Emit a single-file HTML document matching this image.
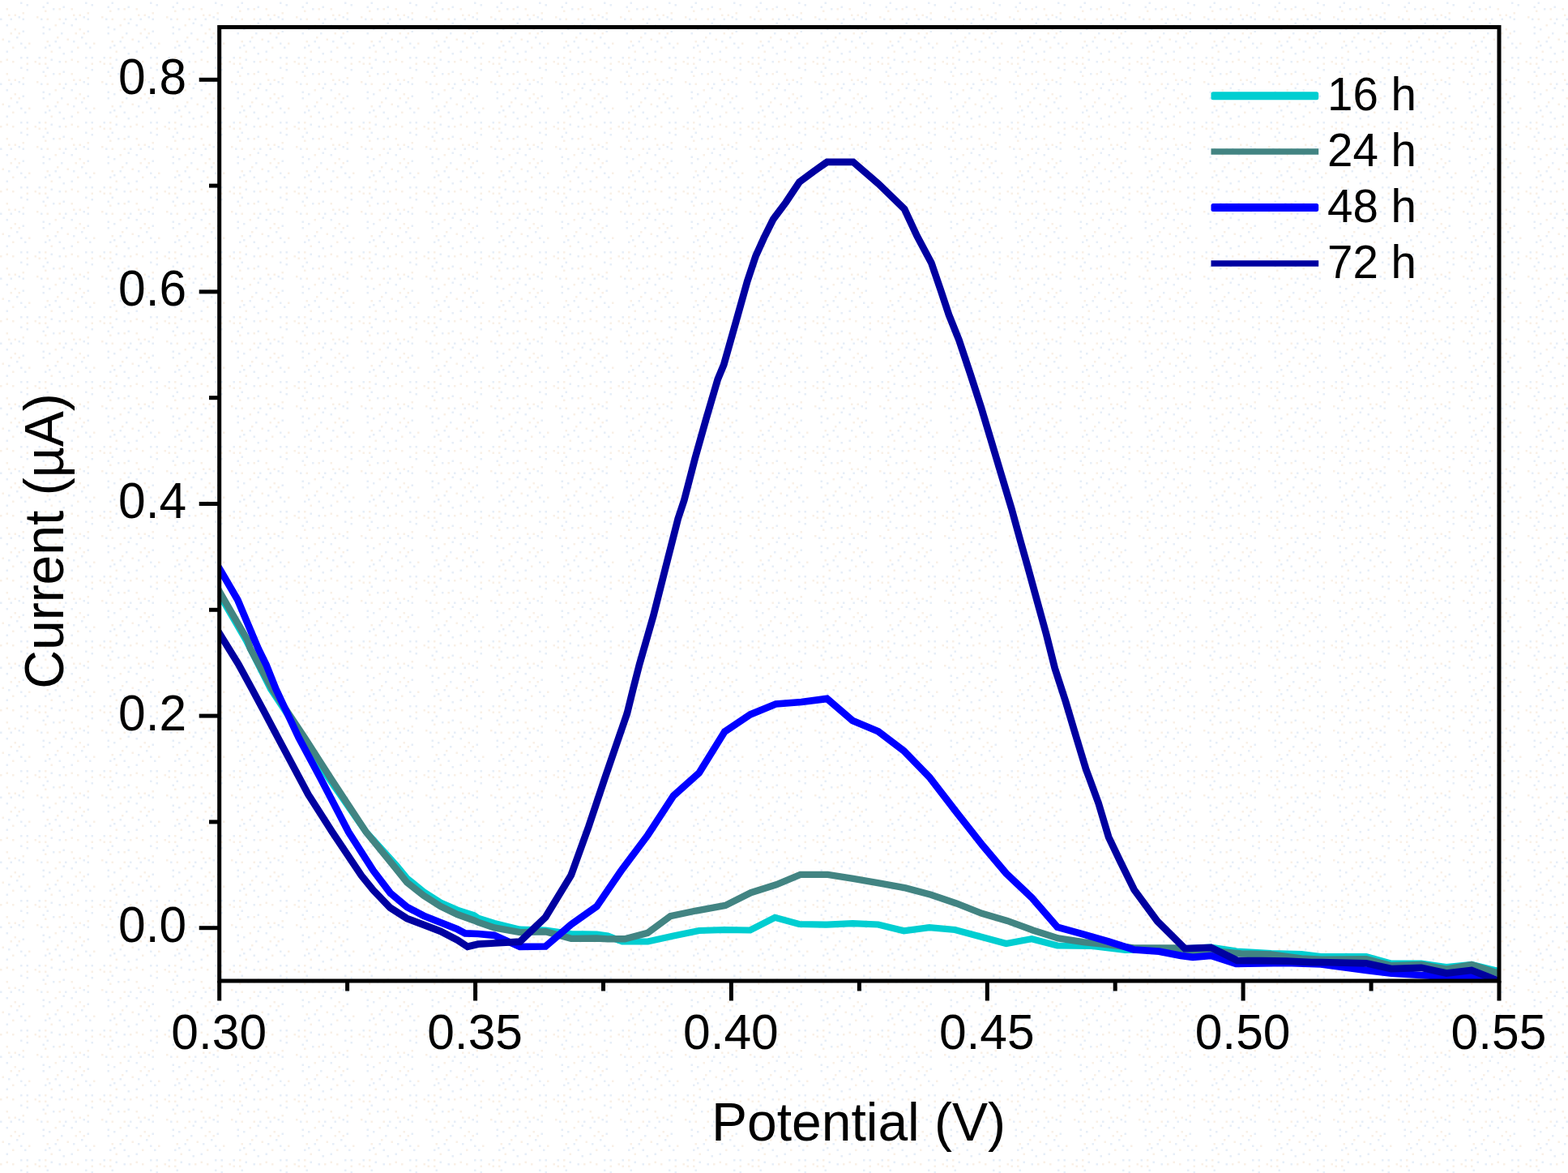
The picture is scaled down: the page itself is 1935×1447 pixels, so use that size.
<!DOCTYPE html>
<html lang="en">
<head>
<meta charset="utf-8">
<title>Current vs Potential</title>
<style>
html,body{margin:0;padding:0;background:#ffffff;}
body{width:1935px;height:1447px;overflow:hidden;}
svg{display:block;}
text{font-family:"Liberation Sans",sans-serif;fill:#000;}
.tick{font-size:60.5px;}
.axl{font-size:66px;}
.leg{font-size:56.5px;}
</style>
</head>
<body>
<svg width="1935" height="1447" viewBox="0 0 1935 1447">
<defs>
<clipPath id="pc"><rect x="270.7" y="33.5" width="1579.3" height="1176.5"/></clipPath>
<pattern id="dz" x="0" y="0" width="80" height="80" patternUnits="userSpaceOnUse">
<path d="M50,22.5h2.5v2.5h-2.5zM32.5,5h2.5v2.5h-2.5zM65,10h2.5v2.5h-2.5zM7.5,62.5h2.5v2.5h-2.5zM20,45h2.5v2.5h-2.5zM30,57.5h2.5v2.5h-2.5zM67.5,50h2.5v2.5h-2.5zM72.5,57.5h2.5v2.5h-2.5zM27.5,37.5h2.5v2.5h-2.5zM25,52.5h2.5v2.5h-2.5zM77.5,65h2.5v2.5h-2.5zM10,50h2.5v2.5h-2.5zM47.5,70h2.5v2.5h-2.5zM60,55h2.5v2.5h-2.5zM77.5,7.5h2.5v2.5h-2.5zM25,70h2.5v2.5h-2.5zM60,35h2.5v2.5h-2.5zM27.5,22.5h2.5v2.5h-2.5zM77.5,27.5h2.5v2.5h-2.5zM0,22.5h2.5v2.5h-2.5zM7.5,30h2.5v2.5h-2.5zM32.5,70h2.5v2.5h-2.5zM52.5,7.5h2.5v2.5h-2.5zM57.5,2.5h2.5v2.5h-2.5zM72.5,75h2.5v2.5h-2.5zM12.5,22.5h2.5v2.5h-2.5zM52.5,40h2.5v2.5h-2.5zM25,2.5h2.5v2.5h-2.5zM75,40h2.5v2.5h-2.5zM55,57.5h2.5v2.5h-2.5zM52.5,32.5h2.5v2.5h-2.5zM62.5,72.5h2.5v2.5h-2.5zM22.5,20h2.5v2.5h-2.5z" fill="#e6eef8"/>
<path d="M7.5,10h2.5v2.5h-2.5zM15,57.5h2.5v2.5h-2.5zM17.5,35h2.5v2.5h-2.5zM27.5,15h2.5v2.5h-2.5zM32.5,77.5h2.5v2.5h-2.5zM47.5,77.5h2.5v2.5h-2.5zM70,45h2.5v2.5h-2.5zM10,17.5h2.5v2.5h-2.5zM55,77.5h2.5v2.5h-2.5zM72.5,10h2.5v2.5h-2.5zM42.5,75h2.5v2.5h-2.5zM45,20h2.5v2.5h-2.5zM62.5,62.5h2.5v2.5h-2.5zM57.5,50h2.5v2.5h-2.5zM7.5,72.5h2.5v2.5h-2.5zM15,75h2.5v2.5h-2.5zM22.5,40h2.5v2.5h-2.5zM17.5,17.5h2.5v2.5h-2.5zM57.5,22.5h2.5v2.5h-2.5zM2.5,47.5h2.5v2.5h-2.5zM12.5,40h2.5v2.5h-2.5zM35,52.5h2.5v2.5h-2.5zM55,70h2.5v2.5h-2.5zM0,75h2.5v2.5h-2.5zM55,12.5h2.5v2.5h-2.5zM72.5,22.5h2.5v2.5h-2.5zM67.5,30h2.5v2.5h-2.5z" fill="#f9f0e6"/>
</pattern>
</defs>
<rect x="0" y="0" width="1935" height="1447" fill="#ffffff"/>
<rect x="0" y="0" width="1935" height="1447" fill="url(#dz)"/>
<g clip-path="url(#pc)" fill="none" stroke-linejoin="miter" stroke-miterlimit="3" stroke-linecap="butt">
<path d="M262.7,719.0 L273.2,737.5 L303.7,790.0 L334.0,850.0 L374.5,911.0 L405.6,960.0 L451.7,1026.3 L489.5,1068.0 L502.2,1083.4 L522.9,1100.2 L543.7,1113.5 L564.4,1122.6 L585.1,1129.2 L590.0,1132.6 L610.1,1139.0 L641.6,1146.7 L673.2,1147.5 L704.8,1152.1 L736.4,1152.5 L750.0,1154.5 L767.9,1161.5 L799.5,1161.5 L831.1,1154.5 L862.7,1148.0 L894.3,1147.0 L925.8,1147.5 L956.3,1131.8 L986.1,1140.0 L1020.6,1140.7 L1052.2,1139.2 L1083.8,1140.5 L1115.4,1148.3 L1146.9,1144.2 L1178.5,1147.0 L1210.1,1155.5 L1241.7,1164.0 L1273.2,1158.2 L1304.8,1166.5 L1347.4,1167.0 L1388.8,1172.0 L1462.0,1170.3 L1494.0,1168.5 L1526.0,1173.5 L1568.8,1176.0 L1606.0,1177.0 L1630.0,1180.0 L1686.0,1180.0 L1717.0,1188.7 L1754.0,1188.7 L1785.0,1193.0 L1816.0,1190.0 L1847.0,1197.4 L1853.0,1199.0" stroke="#00ced1" stroke-width="8.2"/>
<path d="M262.7,715.5 L273.2,733.9 L305.7,790.0 L308.9,800.0 L336.0,850.0 L376.0,910.0 L408.1,960.0 L451.7,1026.3 L487.4,1070.0 L502.2,1088.5 L522.9,1104.8 L543.7,1118.1 L564.4,1128.0 L585.1,1135.5 L590.0,1137.6 L610.1,1144.5 L641.6,1150.1 L673.2,1149.2 L704.8,1157.9 L736.4,1157.5 L750.0,1158.4 L771.1,1158.2 L799.2,1150.8 L827.3,1130.1 L858.8,1123.5 L895.1,1116.9 L926.6,1101.2 L958.0,1091.3 L987.7,1078.9 L1021.5,1078.9 L1052.9,1083.8 L1086.0,1089.6 L1117.4,1095.4 L1148.8,1103.7 L1180.3,1114.4 L1211.7,1126.8 L1243.1,1135.9 L1274.5,1147.5 L1305.9,1157.4 L1337.0,1162.2 L1368.1,1165.3 L1399.2,1169.4 L1451.0,1169.4 L1471.8,1173.6 L1502.9,1173.6 L1531.6,1176.5 L1568.8,1177.5 L1606.0,1182.5 L1630.9,1183.8 L1686.0,1183.2 L1717.0,1191.2 L1754.0,1190.0 L1785.0,1195.6 L1816.0,1190.0 L1847.0,1200.0 L1853.0,1202.0" stroke="#428482" stroke-width="8.4"/>
<path d="M262.7,688.0 L273.2,705.5 L293.3,740.0 L318.6,800.0 L328.5,820.0 L340.5,850.0 L368.7,910.0 L395.5,960.0 L430.1,1026.3 L460.7,1074.1 L481.5,1101.5 L502.2,1118.9 L522.9,1129.7 L543.7,1138.0 L564.4,1146.3 L574.0,1151.3 L590.0,1152.0 L610.1,1153.8 L641.6,1167.9 L673.2,1167.5 L704.8,1140.5 L736.4,1118.1 L768.0,1072.0 L799.5,1030.0 L831.1,981.7 L862.7,953.5 L894.3,902.5 L925.9,881.4 L957.4,868.5 L989.0,866.0 L1020.6,861.9 L1052.2,889.0 L1083.8,902.2 L1115.4,926.3 L1146.9,958.6 L1181.5,1003.5 L1212.6,1042.9 L1241.7,1077.4 L1273.2,1107.2 L1304.8,1143.7 L1336.4,1152.4 L1368.0,1161.5 L1399.2,1171.5 L1430.3,1173.6 L1457.2,1178.9 L1472.1,1180.8 L1494.4,1178.9 L1525.4,1188.8 L1587.0,1188.0 L1630.0,1189.4 L1686.0,1196.9 L1717.0,1200.6 L1754.0,1203.0 L1785.0,1205.0 L1816.0,1204.0 L1847.0,1210.0 L1853.0,1211.0" stroke="#0000ff" stroke-width="8.75"/>
<path d="M262.7,768.3 L273.2,785.3 L294.3,819.4 L311.0,850.0 L325.9,877.7 L343.0,910.0 L380.4,980.0 L410.0,1026.3 L445.9,1080.0 L460.7,1098.2 L481.5,1119.8 L502.2,1133.0 L522.9,1140.9 L543.7,1148.8 L564.4,1159.6 L577.0,1167.8 L590.0,1164.7 L610.1,1163.5 L641.6,1161.7 L673.2,1131.4 L704.8,1079.5 L726.3,1020.0 L746.4,960.0 L773.9,880.0 L781.3,850.0 L789.0,820.0 L806.2,760.0 L821.4,700.0 L836.7,640.0 L844.3,617.0 L857.8,565.2 L871.2,517.5 L885.8,467.7 L893.2,450.0 L907.7,398.8 L922.2,347.0 L932.6,315.9 L942.9,293.1 L954.3,270.3 L969.9,249.5 L986.5,224.6 L1003.1,212.2 L1020.7,199.8 L1052.8,199.8 L1084.0,226.7 L1116.1,257.8 L1131.6,291.0 L1149.3,324.2 L1160.7,357.4 L1171.0,388.5 L1183.5,419.6 L1197.5,461.5 L1210.9,502.9 L1223.4,544.4 L1235.8,585.9 L1248.3,627.4 L1259.7,668.8 L1268.5,700.0 L1279.9,741.5 L1291.3,782.9 L1301.7,824.4 L1315.2,865.9 L1327.6,907.4 L1340.1,948.8 L1344.3,960.0 L1355.7,991.1 L1368.1,1032.6 L1382.6,1063.0 L1399.6,1097.5 L1428.2,1136.3 L1462.2,1170.0 L1494.4,1168.8 L1526.7,1184.8 L1556.4,1185.1 L1587.4,1185.7 L1618.4,1187.0 L1630.0,1187.0 L1686.0,1188.3 L1717.0,1195.0 L1754.0,1193.8 L1785.0,1200.6 L1816.0,1197.0 L1847.0,1209.0 L1853.0,1211.0" stroke="#0000a0" stroke-width="8.75"/>
</g>
<g stroke="#000" stroke-width="5" fill="none" stroke-linecap="butt">
<rect x="270.7" y="33.5" width="1579.3" height="1176.5"/>
<line x1="270.7" y1="1210.0" x2="270.7" y2="1234.5"/>
<line x1="428.6" y1="1210.0" x2="428.6" y2="1222.5"/>
<line x1="586.6" y1="1210.0" x2="586.6" y2="1234.5"/>
<line x1="744.5" y1="1210.0" x2="744.5" y2="1222.5"/>
<line x1="902.4" y1="1210.0" x2="902.4" y2="1234.5"/>
<line x1="1060.4" y1="1210.0" x2="1060.4" y2="1222.5"/>
<line x1="1218.3" y1="1210.0" x2="1218.3" y2="1234.5"/>
<line x1="1376.2" y1="1210.0" x2="1376.2" y2="1222.5"/>
<line x1="1534.1" y1="1210.0" x2="1534.1" y2="1234.5"/>
<line x1="1692.1" y1="1210.0" x2="1692.1" y2="1222.5"/>
<line x1="1850.0" y1="1210.0" x2="1850.0" y2="1234.5"/>
<line x1="245.7" y1="1144.7" x2="270.7" y2="1144.7"/>
<line x1="258" y1="1013.9" x2="270.7" y2="1013.9"/>
<line x1="245.7" y1="883.1" x2="270.7" y2="883.1"/>
<line x1="258" y1="752.3" x2="270.7" y2="752.3"/>
<line x1="245.7" y1="621.5" x2="270.7" y2="621.5"/>
<line x1="258" y1="490.7" x2="270.7" y2="490.7"/>
<line x1="245.7" y1="359.9" x2="270.7" y2="359.9"/>
<line x1="258" y1="229.1" x2="270.7" y2="229.1"/>
<line x1="245.7" y1="98.3" x2="270.7" y2="98.3"/>
</g>
<g class="tick" text-anchor="middle">
<text x="270.2" y="1294.1">0.30</text>
<text x="586.1" y="1294.1">0.35</text>
<text x="901.9" y="1294.1">0.40</text>
<text x="1217.8" y="1294.1">0.45</text>
<text x="1533.6" y="1294.1">0.50</text>
<text x="1849.5" y="1294.1">0.55</text>
</g>
<g class="tick" text-anchor="end">
<text transform="translate(230.2,1162.1) scale(1,1.045)">0.0</text>
<text transform="translate(230.2,900.5) scale(1,1.045)">0.2</text>
<text transform="translate(230.2,638.9) scale(1,1.045)">0.4</text>
<text transform="translate(230.2,377.3) scale(1,1.045)">0.6</text>
<text transform="translate(230.2,115.7) scale(1,1.045)">0.8</text>
</g>
<text class="axl" text-anchor="middle" x="1059.5" y="1407">Potential (V)</text>
<text class="axl" text-anchor="middle" transform="translate(77.7,667.5) rotate(-90) scale(1,1.04)">Current (µA)</text>
<rect x="1494.5" y="113.3" width="132.7" height="10" rx="2.5" fill="#00ced1"/>
<text class="leg" x="1638" y="135.8">16 h</text>
<rect x="1494.5" y="183.25" width="132.7" height="7.5" fill="#428482"/>
<text class="leg" x="1638" y="205.3">24 h</text>
<rect x="1494.5" y="251.0" width="132.7" height="10" rx="2.5" fill="#0000ff"/>
<text class="leg" x="1638" y="274">48 h</text>
<rect x="1494.5" y="321.25" width="132.7" height="7.5" fill="#0000a0"/>
<text class="leg" x="1638" y="343">72 h</text>
</svg>
</body>
</html>
